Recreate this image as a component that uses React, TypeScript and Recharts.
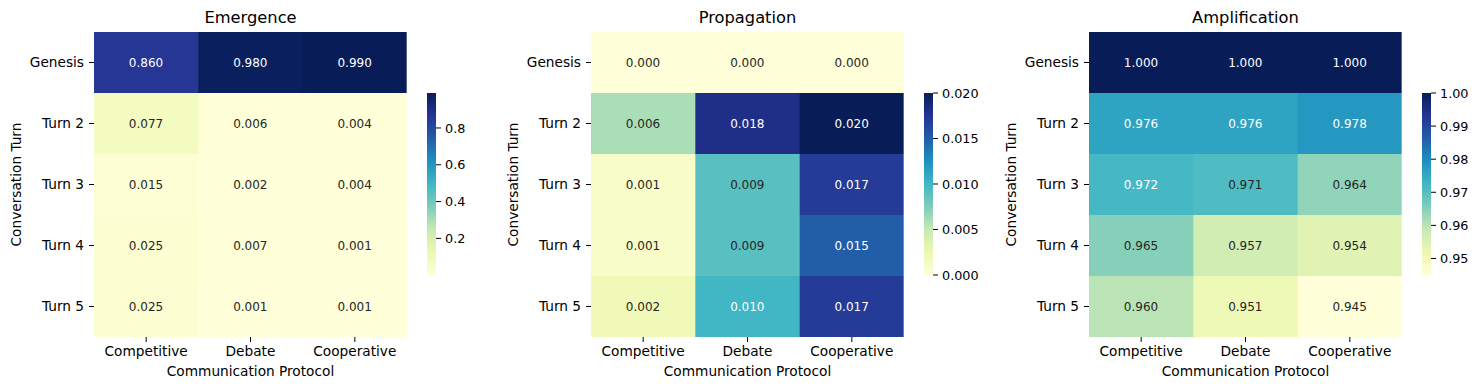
import React from 'react';
import { BarChart, Bar, XAxis, YAxis } from 'recharts';

const protocols = ['Competitive', 'Debate', 'Cooperative'];
const turns = ['Genesis', 'Turn 2', 'Turn 3', 'Turn 4', 'Turn 5'];

const emergence = [
  [0.86, 0.98, 0.99],
  [0.077, 0.006, 0.004],
  [0.015, 0.002, 0.004],
  [0.025, 0.007, 0.001],
  [0.025, 0.001, 0.001],
];
const propagation = [
  [0.0, 0.0, 0.0],
  [0.006, 0.018, 0.02],
  [0.001, 0.009, 0.017],
  [0.001, 0.009, 0.015],
  [0.002, 0.01, 0.017],
];
const amplification = [
  [1.0, 1.0, 1.0],
  [0.976, 0.976, 0.978],
  [0.972, 0.971, 0.964],
  [0.965, 0.957, 0.954],
  [0.96, 0.951, 0.945],
];

const emergenceTicks = [0.2, 0.4, 0.6, 0.8];
const propagationTicks = [0, 0.005, 0.01, 0.015, 0.02];
const amplificationTicks = [0.95, 0.96, 0.97, 0.98, 0.99, 1.0];

const YLGNBU = [
  [255, 255, 217],
  [237, 248, 177],
  [199, 233, 180],
  [127, 205, 187],
  [65, 182, 196],
  [29, 145, 192],
  [34, 94, 168],
  [37, 52, 148],
  [8, 29, 88],
];

function cmap(t: number): number[] {
  const c = Math.max(0, Math.min(1, t)) * 8;
  const i = Math.min(7, Math.floor(c));
  const f = c - i;
  const a = YLGNBU[i];
  const b = YLGNBU[i + 1];
  return [0, 1, 2].map((k) => a[k] + (b[k] - a[k]) * f);
}
const toHex = (c: number[]) =>
  '#' + c.map((v) => Math.round(v).toString(16).padStart(2, '0')).join('');

function luminance(c: number[]) {
  const l = c.map((v) => {
    const s = v / 255;
    return s <= 0.03928 ? s / 12.92 : Math.pow((s + 0.055) / 1.055, 2.4);
  });
  return 0.2126 * l[0] + 0.7152 * l[1] + 0.0722 * l[2];
}

const FONT = 'DejaVu Sans, sans-serif';
const PLOT_TOP = 32;
const PLOT_BOTTOM = 337;
const PLOT_W = 313;
const Y_AXIS_W = 94;

type PanelProps = {
  title: string;
  values: number[][];
  vmin: number;
  vmax: number;
  ticks: number[];
  tickFmt: (v: number) => string;
  plotLeft: number;
  id: string;
};

function Heatmap({ values, vmin, vmax, plotLeft }: PanelProps) {
  const data = protocols.map((p, j) => {
    const row: any = { protocol: p };
    turns.forEach((t, i) => {
      row[t] = values[i][j];
      row['u' + i] = 1;
    });
    return row;
  });
  const order = [4, 3, 2, 1, 0];
  return (
    <div style={{ position: 'absolute', left: plotLeft - Y_AXIS_W, top: 0 }}>
      <BarChart
        width={Y_AXIS_W + PLOT_W + 10}
        height={390}
        data={data}
        margin={{ top: PLOT_TOP, right: 10, bottom: 0, left: 0 }}
        barCategoryGap={0}
        barGap={0}
      >
        <XAxis
          dataKey="protocol"
          type="category"
          height={390 - PLOT_BOTTOM}
          axisLine={false}
          tickSize={5}
          tickMargin={4}
          tickLine={{ stroke: '#000', strokeWidth: 1 }}
          tick={{ fill: '#000', fontSize: 13.7, fontFamily: FONT }}
          interval={0}
          label={(p: any) => {
            const vb = p.viewBox;
            return (
              <text
                x={vb.x + vb.width / 2}
                y={376}
                textAnchor="middle"
                fill="#000"
                fontSize={13.7}
                fontFamily={FONT}
              >
                Communication Protocol
              </text>
            );
          }}
        />
        <YAxis
          type="number"
          domain={[0, 5]}
          ticks={[0.5, 1.5, 2.5, 3.5, 4.5]}
          interval={0}
          width={Y_AXIS_W}
          axisLine={false}
          tickSize={5}
          tickMargin={5}
          tickLine={{ stroke: '#000', strokeWidth: 1 }}
          tick={{ fill: '#000', fontSize: 13.7, fontFamily: FONT }}
          tickFormatter={(v: number) => turns[4 - Math.floor(v)]}
          label={(p: any) => {
            const vb = p.viewBox;
            const cx = 15.5;
            const cy = vb.y + vb.height / 2;
            return (
              <text
                x={cx}
                y={cy}
                transform={`rotate(-90, ${cx}, ${cy})`}
                textAnchor="middle"
                dominantBaseline="central"
                fill="#000"
                fontSize={13.7}
                fontFamily={FONT}
              >
                Conversation Turn
              </text>
            );
          }}
        />
        {order.map((i) => (
          <Bar
            key={i}
            dataKey={'u' + i}
            stackId="s"
            isAnimationActive={false}
            shape={(p: any) => {
              const v = p.payload[turns[i]];
              const c = cmap((v - vmin) / (vmax - vmin));
              const txt = luminance(c) > 0.408 ? '#262626' : '#ffffff';
              const col = protocols.indexOf(p.payload.protocol);
              const extra = col < protocols.length - 1 ? 1 : 0;
              return (
                <g>
                  <rect
                    x={p.x}
                    y={p.y}
                    width={p.width + extra}
                    height={p.height}
                    fill={toHex(c)}
                  />
                  <text
                    x={p.x + p.width / 2}
                    y={p.y + p.height / 2}
                    textAnchor="middle"
                    dominantBaseline="central"
                    fill={txt}
                    fontSize={12}
                    fontFamily={FONT}
                  >
                    {v.toFixed(3)}
                  </text>
                </g>
              );
            }}
          />
        ))}
      </BarChart>
    </div>
  );
}

const CB_TOP = 93;
const CB_BOTTOM = 275;
const CB_W = 9;

function Colorbar({ vmin, vmax, ticks, tickFmt, plotLeft, id }: PanelProps) {
  const left = plotLeft + PLOT_W + 20;
  const data = [{ k: 'c', r: [vmin, vmax] }];
  return (
    <div style={{ position: 'absolute', left, top: 0 }}>
      <BarChart
        width={CB_W + 60}
        height={390}
        data={data}
        margin={{ top: CB_TOP, right: 0, bottom: 390 - CB_BOTTOM, left: 0 }}
        barCategoryGap={0}
      >
        <defs>
          <linearGradient id={id} x1="0" y1="1" x2="0" y2="0">
            {YLGNBU.map((c, i) => (
              <stop key={i} offset={i / 8} stopColor={toHex(c)} />
            ))}
          </linearGradient>
        </defs>
        <XAxis dataKey="k" hide height={0} />
        <YAxis
          orientation="right"
          type="number"
          domain={[vmin, vmax]}
          ticks={ticks}
          interval={0}
          allowDataOverflow
          width={60}
          axisLine={false}
          tickSize={5}
          tickMargin={4}
          tickLine={{ stroke: '#000', strokeWidth: 1 }}
          tick={{ fill: '#000', fontSize: 12.8, fontFamily: FONT }}
          tickFormatter={tickFmt}
        />
        <Bar dataKey="r" fill={`url(#${id})`} isAnimationActive={false} />
      </BarChart>
    </div>
  );
}

const panels: PanelProps[] = [
  {
    title: 'Emergence',
    values: emergence,
    vmin: 0.001,
    vmax: 0.99,
    ticks: emergenceTicks,
    tickFmt: (v) => v.toFixed(1),
    plotLeft: 94,
    id: 'gEm',
  },
  {
    title: 'Propagation',
    values: propagation,
    vmin: 0,
    vmax: 0.02,
    ticks: propagationTicks,
    tickFmt: (v) => v.toFixed(3),
    plotLeft: 591,
    id: 'gPr',
  },
  {
    title: 'Amplification',
    values: amplification,
    vmin: 0.945,
    vmax: 1.0,
    ticks: amplificationTicks,
    tickFmt: (v) => v.toFixed(2),
    plotLeft: 1089,
    id: 'gAm',
  },
];

export default function App() {
  return (
    <div
      style={{
        position: 'absolute',
        left: 0,
        top: 0,
        width: 1481,
        height: 390,
        background: '#fff',
        fontFamily: FONT,
        overflow: 'hidden',
      }}
    >
      {panels.map((p) => (
        <React.Fragment key={p.id}>
          <Heatmap {...p} />
          <Colorbar {...p} />
        </React.Fragment>
      ))}
      <svg
        width={1481}
        height={390}
        style={{ position: 'absolute', left: 0, top: 0, pointerEvents: 'none' }}
      >
        {panels.map((p) => (
          <text
            key={p.id}
            x={p.plotLeft + PLOT_W / 2}
            y={22.5}
            textAnchor="middle"
            fill="#000"
            fontSize={16.3}
            fontFamily={FONT}
          >
            {p.title}
          </text>
        ))}
      </svg>
    </div>
  );
}
